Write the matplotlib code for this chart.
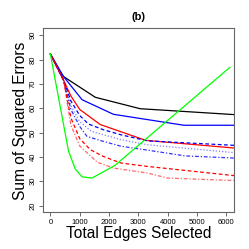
import matplotlib
matplotlib.use("Agg")
import matplotlib.pyplot as plt

plt.rcParams["font.family"] = ["Liberation Sans", "DejaVu Sans"]

# edges selected (x) and sum of squared errors (y) for each method
black_x = [0, 400, 1530, 3060, 6500]
black_y = [82.3, 73.4, 64.5, 59.8, 57.2]

blue_x = [0, 450, 1080, 2150, 4550, 6500]
blue_y = [82.3, 73.0, 63.5, 57.5, 53.0, 53.0]

red_x = [0, 450, 700, 1000, 1700, 3250, 6500]
red_y = [82.3, 71.5, 65.0, 59.5, 53.3, 46.8, 43.4]

blue_dash_x = [0, 450, 700, 1000, 1300, 1800, 2400, 3300, 6500]
blue_dash_y = [82.3, 71.5, 63.0, 57.0, 53.5, 51.2, 49.1, 46.6, 44.6]

blue_dot_x = [0, 450, 700, 1000, 1400, 2400, 3300, 6500]
blue_dot_y = [82.3, 71.5, 61.0, 54.5, 50.5, 47.1, 45.0, 41.5]

blue_dashdot_x = [0, 450, 700, 1000, 1250, 1800, 2400, 3300, 4600, 6500]
blue_dashdot_y = [82.3, 71.5, 59.5, 52.5, 48.4, 46.4, 44.4, 42.8, 40.4, 39.4]

red_dash_x = [0, 450, 700, 1000, 1360, 1800, 2400, 3300, 6500]
red_dash_y = [82.3, 71.5, 56.0, 47.5, 43.0, 40.2, 37.5, 36.1, 32.0]

red_dashdot_x = [0, 450, 700, 1000, 1600, 2150, 3300, 4000, 6500]
red_dashdot_y = [82.3, 71.5, 53.0, 44.5, 37.8, 35.4, 33.4, 31.3, 30.2]

green_x = [0, 620, 850, 1080, 1420, 2200, 6120]
green_y = [82.3, 42.3, 35.0, 31.8, 31.3, 36.5, 76.8]

xticks = [0, 1000, 2000, 3000, 4000, 5000, 6000]
yticks = [20, 30, 40, 50, 60, 70, 80, 90]

fig = plt.figure(figsize=(2.49, 2.49), dpi=100)
ax = fig.add_axes([0.174, 0.147, 0.767, 0.739])

lw = 0.9
ax.plot(black_x, black_y, color="black", lw=lw)
ax.plot(blue_x, blue_y, color="blue", lw=lw)
ax.plot(red_x, red_y, color="red", lw=lw)
ax.plot(blue_dash_x, blue_dash_y, color="blue", lw=lw, ls=(0, (3, 2)))
ax.plot(blue_dot_x, blue_dot_y, color="blue", lw=lw, ls=(0, (1, 1.5)), alpha=0.5)
ax.plot(blue_dashdot_x, blue_dashdot_y, color="blue", lw=lw, ls=(0, (3, 1.5, 1, 1.5)), alpha=0.8)
ax.plot(red_dash_x, red_dash_y, color="red", lw=lw, ls=(0, (3, 2)))
ax.plot(red_dashdot_x, red_dashdot_y, color="red", lw=lw, ls=(0, (3, 1.5, 1, 1.5)), alpha=0.6)
ax.plot(green_x, green_y, color="#00ff00", lw=lw)

ax.set_xlim(-240, 6270)
ax.set_ylim(17.2, 92.8)
ax.set_xticks(xticks)
ax.set_yticks(yticks)
ax.tick_params(labelsize=5.5, length=3, width=0.6, color="#555555", pad=2)
for lab in ax.get_yticklabels():
    lab.set_rotation(90)
    lab.set_va("center")
for sp in ax.spines.values():
    sp.set_color("#666666")
    sp.set_linewidth(0.8)

ax.set_xlabel("Total Edges Selected", fontsize=11.2, labelpad=0)
ax.set_ylabel("Sum of Squared Errors", fontsize=11.2, labelpad=1)
ax.set_title("(b)", fontsize=8, fontweight="bold", pad=6)

fig.savefig("out.png", dpi=100)
